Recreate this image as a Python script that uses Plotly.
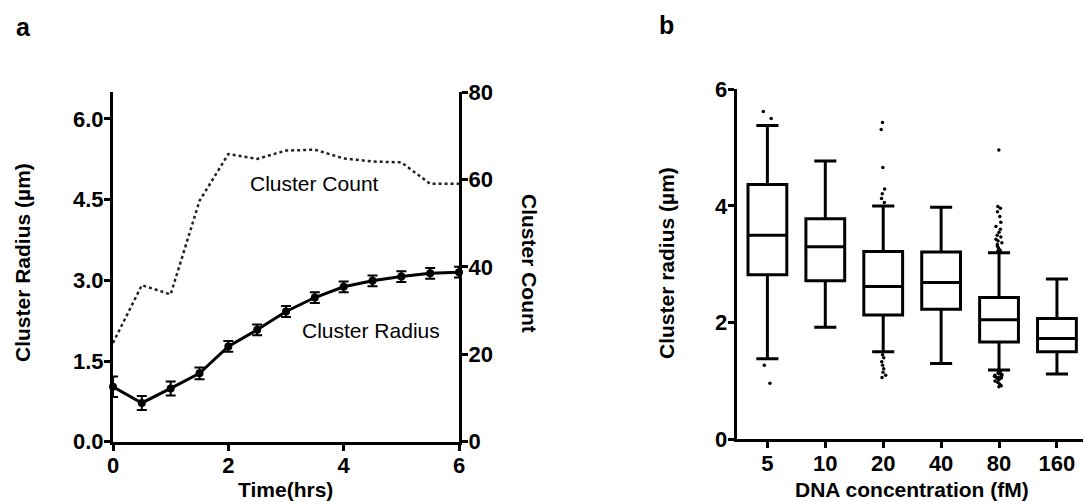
import plotly.graph_objects as go

# ---------------- Panel a data ----------------
time_hrs = [0, 0.5, 1, 1.5, 2, 2.5, 3, 3.5, 4, 4.5, 5, 5.5, 6]
radius_um = [1.02, 0.72, 0.99, 1.27, 1.77, 2.08, 2.42, 2.68, 2.88, 2.99, 3.07, 3.13, 3.15]
radius_err = [0.19, 0.13, 0.13, 0.11, 0.10, 0.10, 0.10, 0.10, 0.10, 0.10, 0.10, 0.10, 0.10]
cluster_count = [22.6, 35.8, 33.7, 55.1, 65.8, 64.7, 66.6, 66.8, 64.8, 64.1, 63.9, 59.0, 59.0]
time_ticks = [0, 2, 4, 6]
radius_ticks = [0, 1.5, 3, 4.5, 6]
count_ticks = [0, 20, 40, 60, 80]

# ---------------- Panel b data ----------------
conc_labels = ["5", "10", "20", "40", "80", "160"]
box_q1 = [2.82, 2.72, 2.13, 2.23, 1.67, 1.50]
box_median = [3.50, 3.30, 2.62, 2.69, 2.05, 1.73]
box_q3 = [4.37, 3.78, 3.22, 3.21, 2.43, 2.07]
box_lower = [1.38, 1.92, 1.50, 1.30, 1.19, 1.12]
box_upper = [5.38, 4.77, 4.00, 3.98, 3.20, 2.75]
radius_b_ticks = [0, 2, 4, 6]

outliers_5 = [5.62, 5.50, 1.27, 0.96]
outliers_20 = [5.43, 5.31, 4.66, 4.29, 4.21, 4.13, 4.06,
               1.45, 1.40, 1.33, 1.27, 1.21, 1.15, 1.10, 1.06]
outliers_80 = [4.96, 3.99, 3.96, 3.90, 3.82, 3.72, 3.65, 3.60, 3.55, 3.50, 3.47,
               3.43, 3.40, 3.37, 3.34, 3.31, 3.28, 3.26, 3.24, 3.22,
               1.17, 1.16, 1.15, 1.14, 1.13, 1.12, 1.11, 1.10, 1.09, 1.08,
               1.07, 1.06, 1.05, 1.04, 1.02, 1.00, 0.98, 0.95, 0.92, 0.90]

W, H = 1083, 502
FONT = "Liberation Sans, Arial, sans-serif"
tick_font = dict(family=FONT, size=22, color="black", weight="bold")
title_font = dict(family=FONT, size=21, color="black", weight="bold")

fig = go.Figure()

# Cluster count (dotted) on the right axis
fig.add_trace(go.Scatter(
    x=time_hrs, y=cluster_count, mode="lines",
    line=dict(color="#222222", width=2.5, dash="dot"),
    xaxis="x", yaxis="y2", showlegend=False, cliponaxis=False))

# Cluster radius with error bars
fig.add_trace(go.Scatter(
    x=time_hrs, y=radius_um, mode="lines+markers",
    line=dict(color="black", width=3),
    marker=dict(color="black", size=8, symbol="circle"),
    error_y=dict(type="data", array=radius_err, visible=True,
                 color="black", thickness=2, width=5),
    xaxis="x", yaxis="y", showlegend=False, cliponaxis=False))

# Box plots (precomputed statistics)
fig.add_trace(go.Box(
    x=conc_labels, q1=box_q1, median=box_median, q3=box_q3,
    lowerfence=box_lower, upperfence=box_upper,
    width=0.67, whiskerwidth=0.57, boxpoints=False,
    line=dict(color="black", width=3), fillcolor="white",
    xaxis="x2", yaxis="y3", showlegend=False))

# Outlier points
out_x = ["5"] * len(outliers_5) + ["20"] * len(outliers_20) + ["80"] * len(outliers_80)
out_y = outliers_5 + outliers_20 + outliers_80
fig.add_trace(go.Box(
    x=out_x, y=out_y, boxpoints="all", pointpos=0, jitter=0.25,
    width=0.67, line=dict(color="rgba(0,0,0,0)", width=0),
    fillcolor="rgba(0,0,0,0)",
    marker=dict(color="black", size=3.5),
    xaxis="x2", yaxis="y3", showlegend=False, hoverinfo="y"))


def axis_style(tickvals, **kw):
    d = dict(showline=True, linecolor="black", linewidth=3,
             ticks="outside", ticklen=2, tickwidth=2.5, tickcolor="black",
             tickvals=tickvals,
             minor=dict(tickvals=tickvals, ticks="outside", ticklen=6,
                        tickwidth=2.5, tickcolor="black", showgrid=False),
             showgrid=False, zeroline=False, tickfont=tick_font,
             automargin=False)
    d.update(kw)
    return d


ya_bot = 1 - 441.7 / H
ya_top = 1 - 92 / H
yb_bot = 1 - 439.3 / H
yb_top = 1 - 89.3 / H

fig.update_layout(
    template="none",
    width=W, height=H,
    margin=dict(l=0, r=0, t=0, b=0, pad=0, autoexpand=False),
    paper_bgcolor="white", plot_bgcolor="white",
    showlegend=False,
    xaxis=axis_style(time_ticks, domain=[113 / W, 459 / W], range=[0, 6], anchor="y"),
    yaxis=axis_style(radius_ticks, domain=[ya_bot, ya_top], range=[0, 6.5],
                     tickformat=".1f", anchor="x"),
    yaxis2=axis_style(count_ticks, overlaying="y", side="right", range=[0, 80],
                      anchor="x"),
    xaxis2=axis_style(conc_labels, domain=[736.7 / W, 1.0], type="category",
                      categoryorder="array", categoryarray=conc_labels,
                      range=[-0.53, 5.45], anchor="y3"),
    yaxis3=axis_style(radius_b_ticks, domain=[yb_bot, yb_top], range=[0, 6],
                      anchor="x2"),
    boxmode="overlay",
)


def ann(text, x, y, font, angle=0):
    fig.add_annotation(text=text, x=x / W, y=1 - y / H, xref="paper", yref="paper",
                       showarrow=False, xanchor="center", yanchor="middle",
                       textangle=angle, font=font)


label_font = dict(family=FONT, size=25, color="black", weight="bold")
plain_font = dict(family=FONT, size=21, color="black")

ann("a", 23, 27, label_font)
ann("b", 666, 25, label_font)
ann("Cluster Radius (µm)", 22, 263, title_font, -90)
ann("Cluster Count", 530, 263, title_font, 90)
ann("Time(hrs)", 285, 489, title_font)
ann("Cluster Count", 314, 183, plain_font)
ann("Cluster Radius", 371, 330, plain_font)
ann("Cluster radius (µm)", 666, 263, title_font, -90)
ann("DNA concentration (fM)", 912, 489, title_font)

fig.write_html("out.html")
